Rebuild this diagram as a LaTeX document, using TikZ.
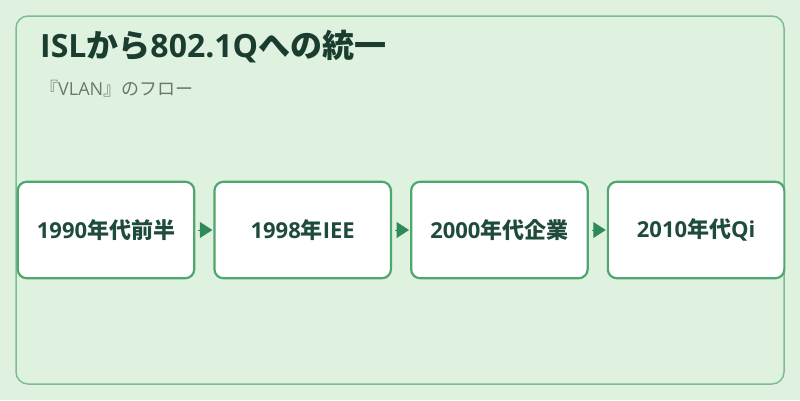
\documentclass[tikz,border=0pt]{standalone}
\usepackage{fontspec}
\setmainfont{Noto Sans CJK JP}
\newfontfamily\latn{Open Sans}
\usetikzlibrary{arrows.meta,positioning}
\definecolor{bgpale}{HTML}{DFF2DF}
\definecolor{frameline}{HTML}{7DBE8E}
\definecolor{boxline}{HTML}{4FA66E}
\definecolor{arrowfill}{HTML}{2E8B57}
\definecolor{titleink}{HTML}{1B3D2F}
\definecolor{boxink}{HTML}{1F4B3A}
\definecolor{subink}{HTML}{6E766E}

\tikzset{
  era/.style = {draw=boxline, line width=2.2pt, fill=white, rounded corners=9pt,
                minimum width=176.5pt, minimum height=96.5pt, inner sep=0pt,
                text=boxink, font=\fontsize{22pt}{24pt}\selectfont\bfseries},
  flow/.style = {draw=arrowfill, line width=1pt, shorten <=3pt, shorten >=1pt,
                 -{Triangle[length=12.5pt,width=16pt,fill=arrowfill]}}
}

\begin{document}
\begin{tikzpicture}[x=1pt,y=-1pt, node distance = 18pt]
\useasboundingbox (0,0) rectangle (800,400);
\fill[bgpale] (0,0) rectangle (800,400);
\draw[frameline, line width=1.5pt, rounded corners=12pt] (16,16) rectangle (784,384);

\node[anchor=base west, text=titleink, font=\fontsize{32pt}{34pt}\selectfont\bfseries, inner sep=0pt]
  (title) at (40,57.5) {{\latn ISL}から{\latn 802.1Q}への統一};
\node[anchor=base west, text=subink, font=\fontsize{18pt}{20pt}\selectfont, inner sep=0pt]
  (subtitle) at (40,95.5) {『{\latn VLAN}』のフロー};

\node[era] (e1990) at (106,230) {{\latn 1990}年代前半};
\node[era] (e1998) [right = of e1990] {{\latn 1998}年{\latn IEE}};
\node[era] (e2000) [right = of e1998] {{\latn 2000}年代企業};
\node[era] (e2010) [right = of e2000] {{\latn 2010}年代{\latn Qi}};

\draw[flow] (e1990) -- (e1998);
\draw[flow] (e1998) -- (e2000);
\draw[flow] (e2000) -- (e2010);
\end{tikzpicture}
\end{document}
